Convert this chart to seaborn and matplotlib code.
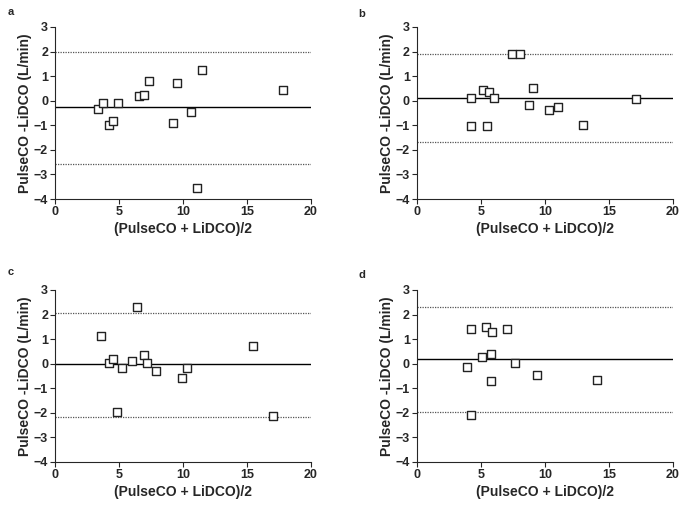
import matplotlib
matplotlib.use("Agg")
import matplotlib.pyplot as plt
import seaborn as sns
import pandas as pd

# ---- data ----
a_x = [3.33, 3.72, 4.24, 4.56, 4.95, 6.54, 6.98, 7.37, 9.53, 9.22, 10.63, 11.48, 11.07, 17.81]
a_y = [-0.33, -0.08, -1.00, -0.83, -0.08, 0.20, 0.23, 0.81, 0.72, -0.91, -0.46, 1.23, -3.54, 0.42]
a_lines = [-0.26, 1.98, -2.57]  # mean, upper, lower

b_x = [4.26, 4.23, 5.14, 5.61, 5.51, 6.05, 7.43, 8.05, 9.09, 8.78, 10.29, 11.04, 12.99, 17.09]
b_y = [0.11, -1.02, 0.42, 0.34, -1.02, 0.11, 1.91, 1.91, 0.53, -0.18, -0.37, -0.27, -0.97, 0.08]
b_lines = [0.11, 1.91, -1.69]

c_x = [3.62, 4.24, 4.56, 4.84, 5.26, 6.02, 6.41, 6.98, 7.19, 7.92, 9.95, 10.29, 15.49, 17.06]
c_y = [1.11, 0.01, 0.19, -1.97, -0.17, 0.12, 2.32, 0.36, 0.01, -0.29, -0.60, -0.19, 0.70, -2.12]
c_lines = [-0.02, 2.08, -2.19]

d_x = [4.26, 5.40, 5.87, 7.06, 5.12, 5.79, 3.92, 7.66, 9.35, 5.82, 14.10, 4.23]
d_y = [1.42, 1.51, 1.27, 1.40, 0.28, 0.40, -0.15, 0.01, -0.48, -0.69, -0.67, -2.10]
d_lines = [0.19, 2.29, -1.99]

panel_labels = ["a", "b", "c", "d"]
x_ticks = [0, 5, 10, 15, 20]
y_ticks = [-4, -3, -2, -1, 0, 1, 2, 3]
xlabel = "(PulseCO + LiDCO)/2"
ylabel = "PulseCO -LiDCO (L/min)"

sns.set_style("ticks")
plt.rcParams["font.family"] = ["Liberation Sans", "DejaVu Sans"]
plt.rcParams["font.weight"] = "bold"

fig = plt.figure(figsize=(6.85, 5.08), dpi=100)
W, H = 685, 508
boxes = [(55, 27, 311, 199), (416.7, 27, 673, 199), (55, 290, 311, 461.7), (416.7, 290, 673, 461.7)]
label_pos = [(8, 12), (358, 14), (8, 272), (358, 275)]
datasets = [(a_x, a_y, a_lines), (b_x, b_y, b_lines), (c_x, c_y, c_lines), (d_x, d_y, d_lines)]

for (l, t, r, b), (xs, ys, lines), lab, (lx, ly) in zip(boxes, datasets, panel_labels, label_pos):
    ax = fig.add_axes([l / W, 1 - b / H, (r - l) / W, (b - t) / H])
    df = pd.DataFrame({"x": xs, "y": ys})
    mean, up, lo = lines
    ax.axhline(mean, color="black", lw=1.0, zorder=1)
    ax.axhline(up, color="#555555", lw=0.9, ls=(0, (1, 1)), zorder=1)
    ax.axhline(lo, color="#555555", lw=0.9, ls=(0, (1, 1)), zorder=1)
    sns.scatterplot(data=df, x="x", y="y", ax=ax, marker="s", s=38,
                    facecolor="white", edgecolor="#222222", linewidth=1.0, zorder=3)
    ax.set_xlim(0, 20)
    ax.set_ylim(-4, 3)
    ax.set_xticks(x_ticks)
    ax.set_yticks(y_ticks)
    ax.tick_params(labelsize=9, length=3.5, width=0.8, pad=1.5)
    for tl in ax.get_xticklabels() + ax.get_yticklabels():
        tl.set_fontweight("bold")
    ax.set_xlabel(xlabel, fontsize=10, fontweight="bold", labelpad=3)
    ax.set_ylabel(ylabel, fontsize=10, fontweight="bold", labelpad=1)
    for s in ["top", "right"]:
        ax.spines[s].set_visible(False)
    for s in ["left", "bottom"]:
        ax.spines[s].set_linewidth(0.8)
    fig.text(lx / W, 1 - ly / H, lab, fontsize=8, fontweight="bold", va="center", ha="left")

fig.savefig("out.png", dpi=100)
